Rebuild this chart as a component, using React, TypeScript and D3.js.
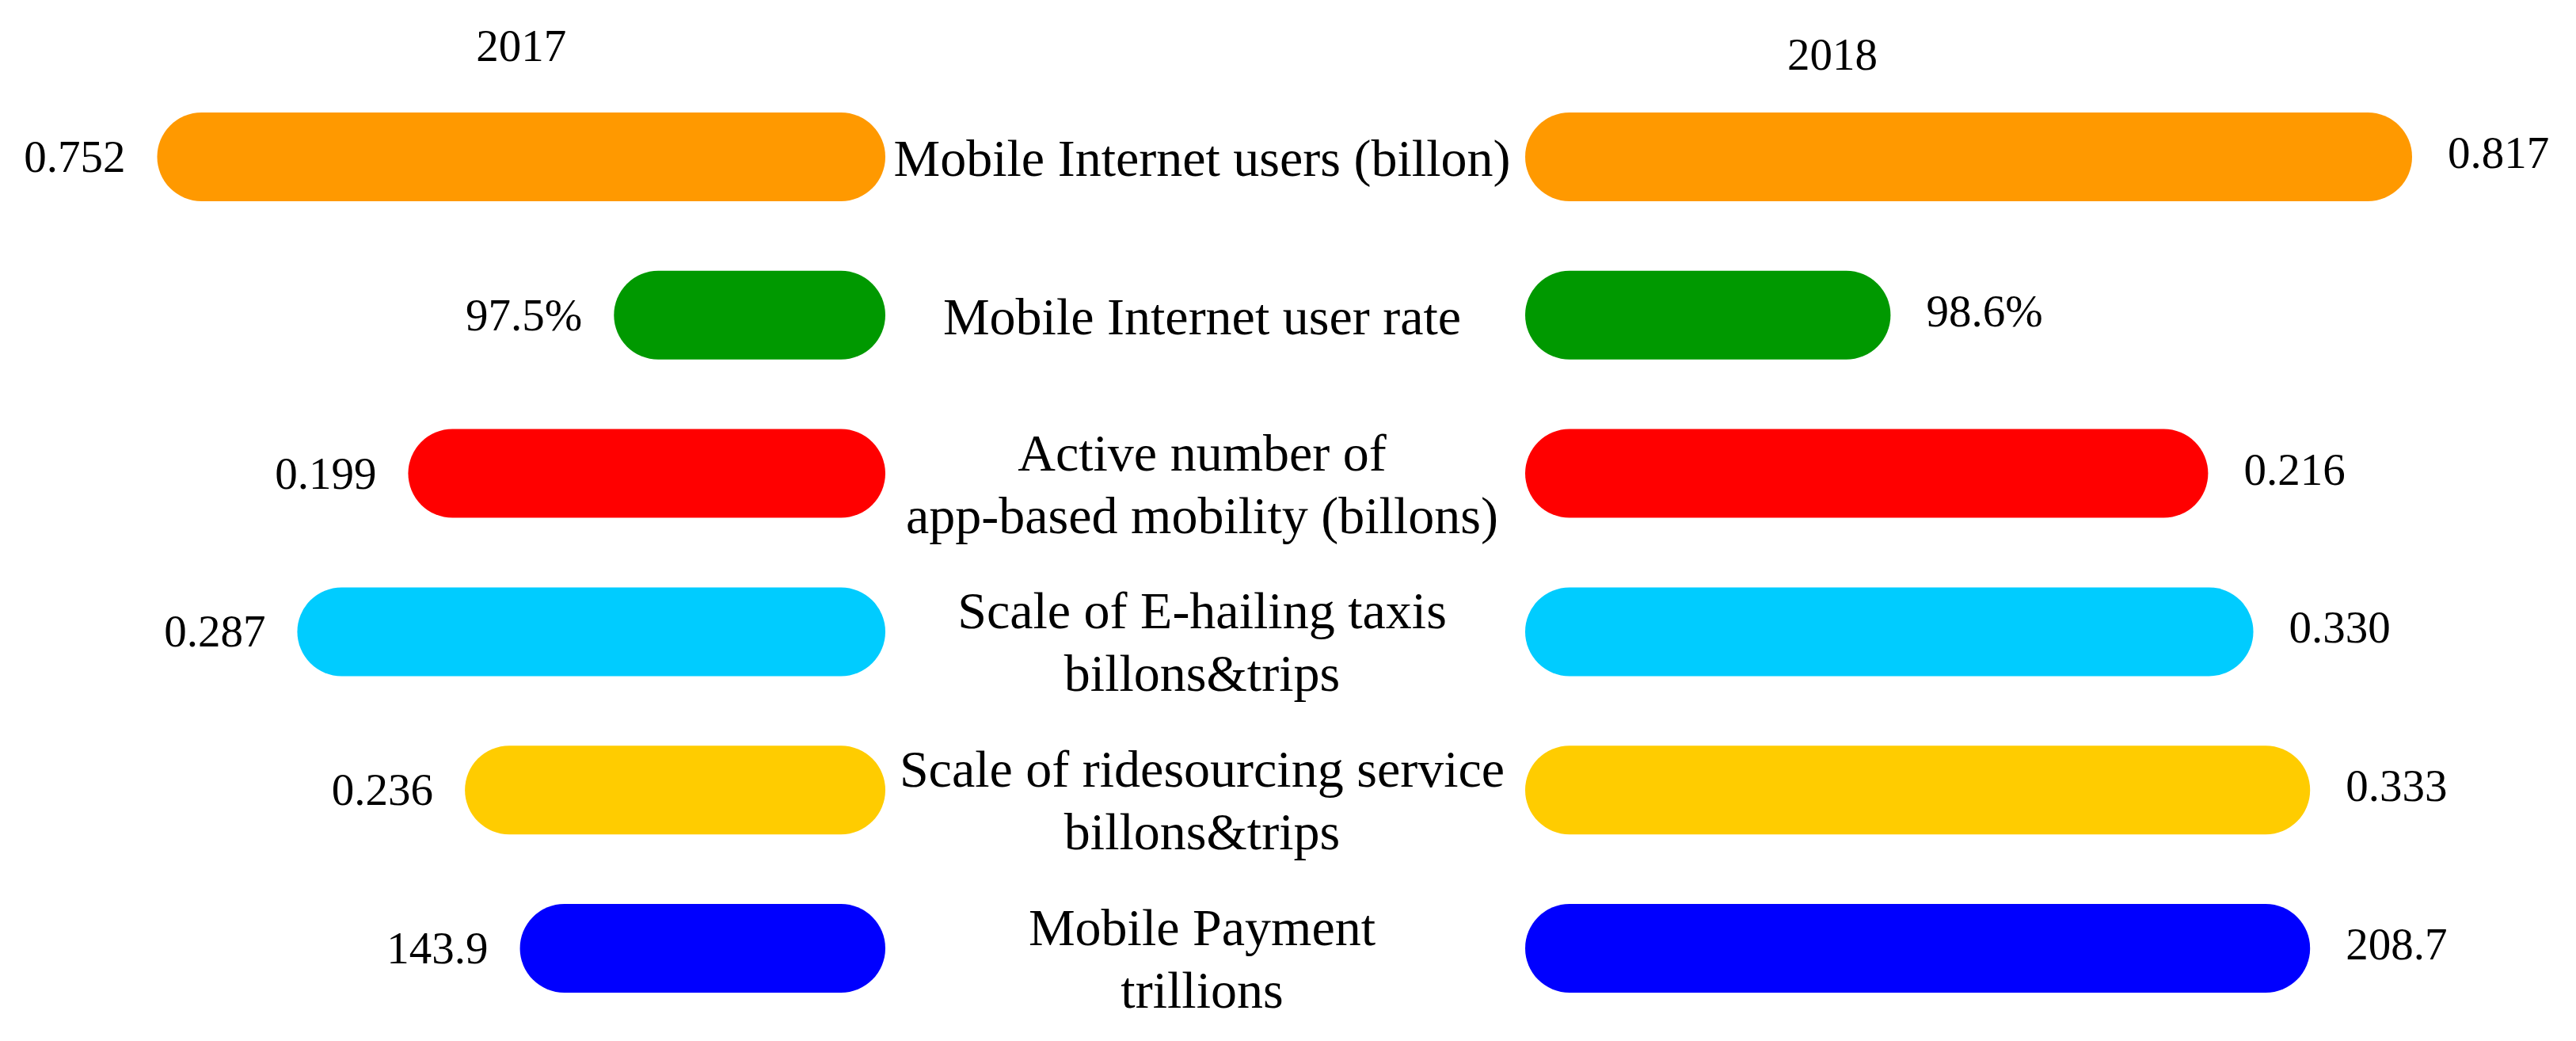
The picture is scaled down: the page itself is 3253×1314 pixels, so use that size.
import { useMemo } from "react";
import * as d3 from "d3";

// rows, top to bottom
const categories = [
  ["Mobile Internet users (billon)"],
  ["Mobile Internet user rate"],
  ["Active number of", "app-based mobility (billons)"],
  ["Scale of E-hailing taxis", "billons&trips"],
  ["Scale of ridesourcing service", "billons&trips"],
  ["Mobile Payment", "trillions"],
];

const years = ["2017", "2018"];

const labels2017 = ["0.752", "97.5%", "0.199", "0.287", "0.236", "143.9"];
const labels2018 = ["0.817", "98.6%", "0.216", "0.330", "0.333", "208.7"];

// bar lengths as drawn (longest bar = 100), the figure is not to value scale
const bars2017 = [82.1, 30.6, 53.8, 66.3, 47.4, 41.2];
const bars2018 = [100, 41.2, 77.0, 82.1, 88.5, 88.5];

const colors = ["#FF9900", "#009900", "#FF0000", "#00CCFF", "#FFCC00", "#0000FF"];

const WIDTH = 3253;
const HEIGHT = 1314;
const FONT = "'Liberation Serif', 'Times New Roman', serif";

export default function App() {
  const leftEnd = 1118;
  const rightStart = 1926;
  const barHeight = 112;
  const mid = 1518;

  const len = useMemo(() => d3.scaleLinear().domain([0, 100]).range([0, 1120]), []);
  const y = useMemo(
    () =>
      d3
        .scalePoint<number>()
        .domain(d3.range(categories.length))
        .range([198, 1197]),
    []
  );

  return (
    <svg
      width={WIDTH}
      height={HEIGHT}
      viewBox={`0 0 ${WIDTH} ${HEIGHT}`}
      style={{ position: "absolute", left: 0, top: 0, background: "#fff" }}
      fontFamily={FONT}
    >
      <text x={(leftEnd - len(bars2017[0]) + leftEnd) / 2} y={77} textAnchor="middle" fontSize={57}>
        {years[0]}
      </text>
      <text x={2314} y={88} textAnchor="middle" fontSize={57}>
        {years[1]}
      </text>

      {categories.map((lines, i) => {
        const cy = y(i) as number;
        const w17 = len(bars2017[i]);
        const w18 = len(bars2018[i]);
        return (
          <g key={i}>
            <rect
              x={leftEnd - w17}
              y={cy - barHeight / 2}
              width={w17}
              height={barHeight}
              rx={barHeight / 2}
              ry={barHeight / 2}
              fill={colors[i]}
            />
            <rect
              x={rightStart}
              y={cy - barHeight / 2}
              width={w18}
              height={barHeight}
              rx={barHeight / 2}
              ry={barHeight / 2}
              fill={colors[i]}
            />
            <text x={leftEnd - w17 - 40} y={cy + 19} textAnchor="end" fontSize={57}>
              {labels2017[i]}
            </text>
            <text x={rightStart + w18 + 45} y={cy + 14} textAnchor="start" fontSize={57}>
              {labels2018[i]}
            </text>
            {lines.length === 1 ? (
              <text x={mid} y={cy + 24} textAnchor="middle" fontSize={66}>
                {lines[0]}
              </text>
            ) : (
              lines.map((line, j) => (
                <text key={j} x={mid} y={cy - 4 + j * 79} textAnchor="middle" fontSize={66}>
                  {line}
                </text>
              ))
            )}
          </g>
        );
      })}
    </svg>
  );
}
